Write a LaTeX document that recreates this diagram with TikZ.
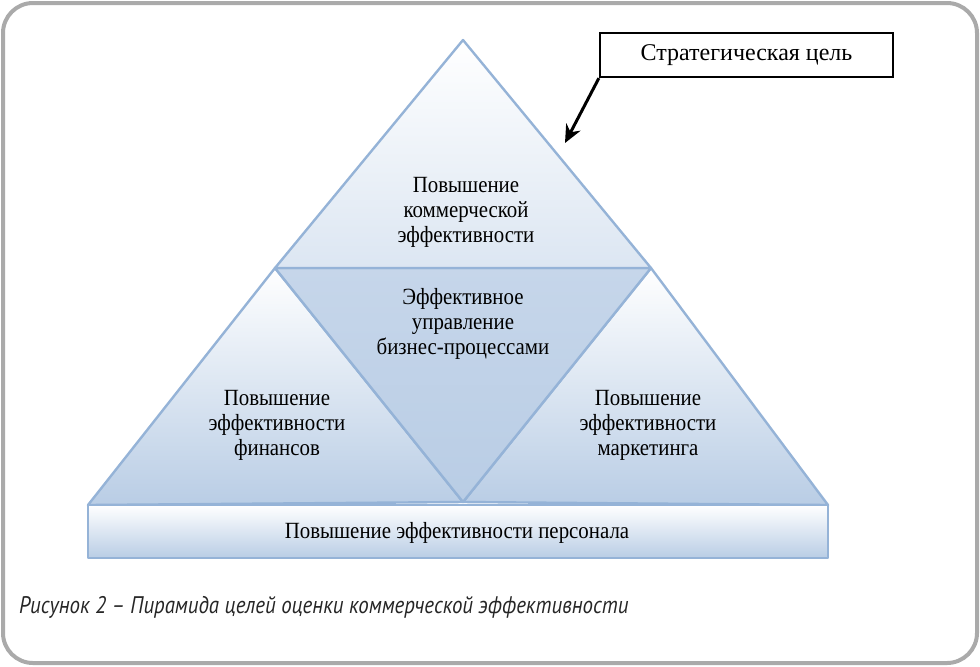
\documentclass[tikz,border=0pt]{standalone}
\usepackage{fontspec}
\setmainfont{Liberation Serif}
\newfontfamily\goalfont[FakeStretch=0.9]{Liberation Serif}
\newfontfamily\capfont[FakeStretch=0.87]{PT Sans}
\usetikzlibrary{arrows.meta, positioning}
\definecolor{pyrline}{RGB}{149,179,215}
\definecolor{pyrlight}{RGB}{220,230,242}
\definecolor{pyrmid}{RGB}{185,205,229}
\definecolor{pyrdeep}{RGB}{198,214,234}
\definecolor{frame}{RGB}{170,170,170}

\begin{document}
\begin{tikzpicture}[x=0.5pt, y=-0.5pt,
    face/.style={draw=pyrline, line width=1.2pt, line join=round},
    goal/.style={align=center, font=\goalfont\fontsize{11.6}{12.5}\selectfont},
    callout/.style={draw=black, line width=1.1pt, fill=white, minimum width=146.5pt, minimum height=22pt, font=\fontsize{12}{14}\selectfont},
    arrow/.style={-{Stealth[length=9pt, width=8pt]}, line width=1.5pt, black},
]
\useasboundingbox (0,0) rectangle (980,666);
\draw[frame, line width=2pt, rounded corners=15pt] (3,3) rectangle (977,663);

\coordinate (apex) at (463,40);
\coordinate (ml) at (275,268);
\coordinate (mr) at (651,268);
\coordinate (bl) at (88,505);
\coordinate (br) at (828,505);
\coordinate (bc) at (463,502);

\filldraw[face, top color=white, bottom color=pyrmid] (ml) -- (bl) -- (bc) -- cycle;
\filldraw[face, top color=white, bottom color=pyrmid] (mr) -- (bc) -- (br) -- cycle;
\filldraw[face, top color=pyrdeep, bottom color=pyrmid] (ml) -- (mr) -- (bc) -- cycle;
\filldraw[face, top color=white, bottom color=pyrlight] (apex) -- (ml) -- (mr) -- cycle;
\filldraw[face, top color=white, bottom color=pyrmid] (bl) rectangle (br |- 0,558);

\node[goal] (top) at (466,212) {Повышение\\коммерческой\\эффективности};
\node[goal] (core) at (463,324) {Эффективное\\управление\\бизнес-процессами};
\node[goal] (fin) at (277,425) {Повышение\\эффективности\\финансов};
\node[goal] (mkt) at (648,425) {Повышение\\эффективности\\маркетинга};
\node[goal] (staff) at (457,533) {Повышение эффективности персонала};

\node[callout] (aim) at (746.5,55) {Стратегическая цель};
\coordinate (aimtip) at (565,143);
\draw[arrow] (aim.south west) -- (aimtip);

\node[anchor=west, font=\capfont\itshape\fontsize{12}{14}\selectfont, text=black!85] (cap) at (12,607) {Рисунок 2 – Пирамида целей оценки коммерческой эффективности};
\end{tikzpicture}
\end{document}
